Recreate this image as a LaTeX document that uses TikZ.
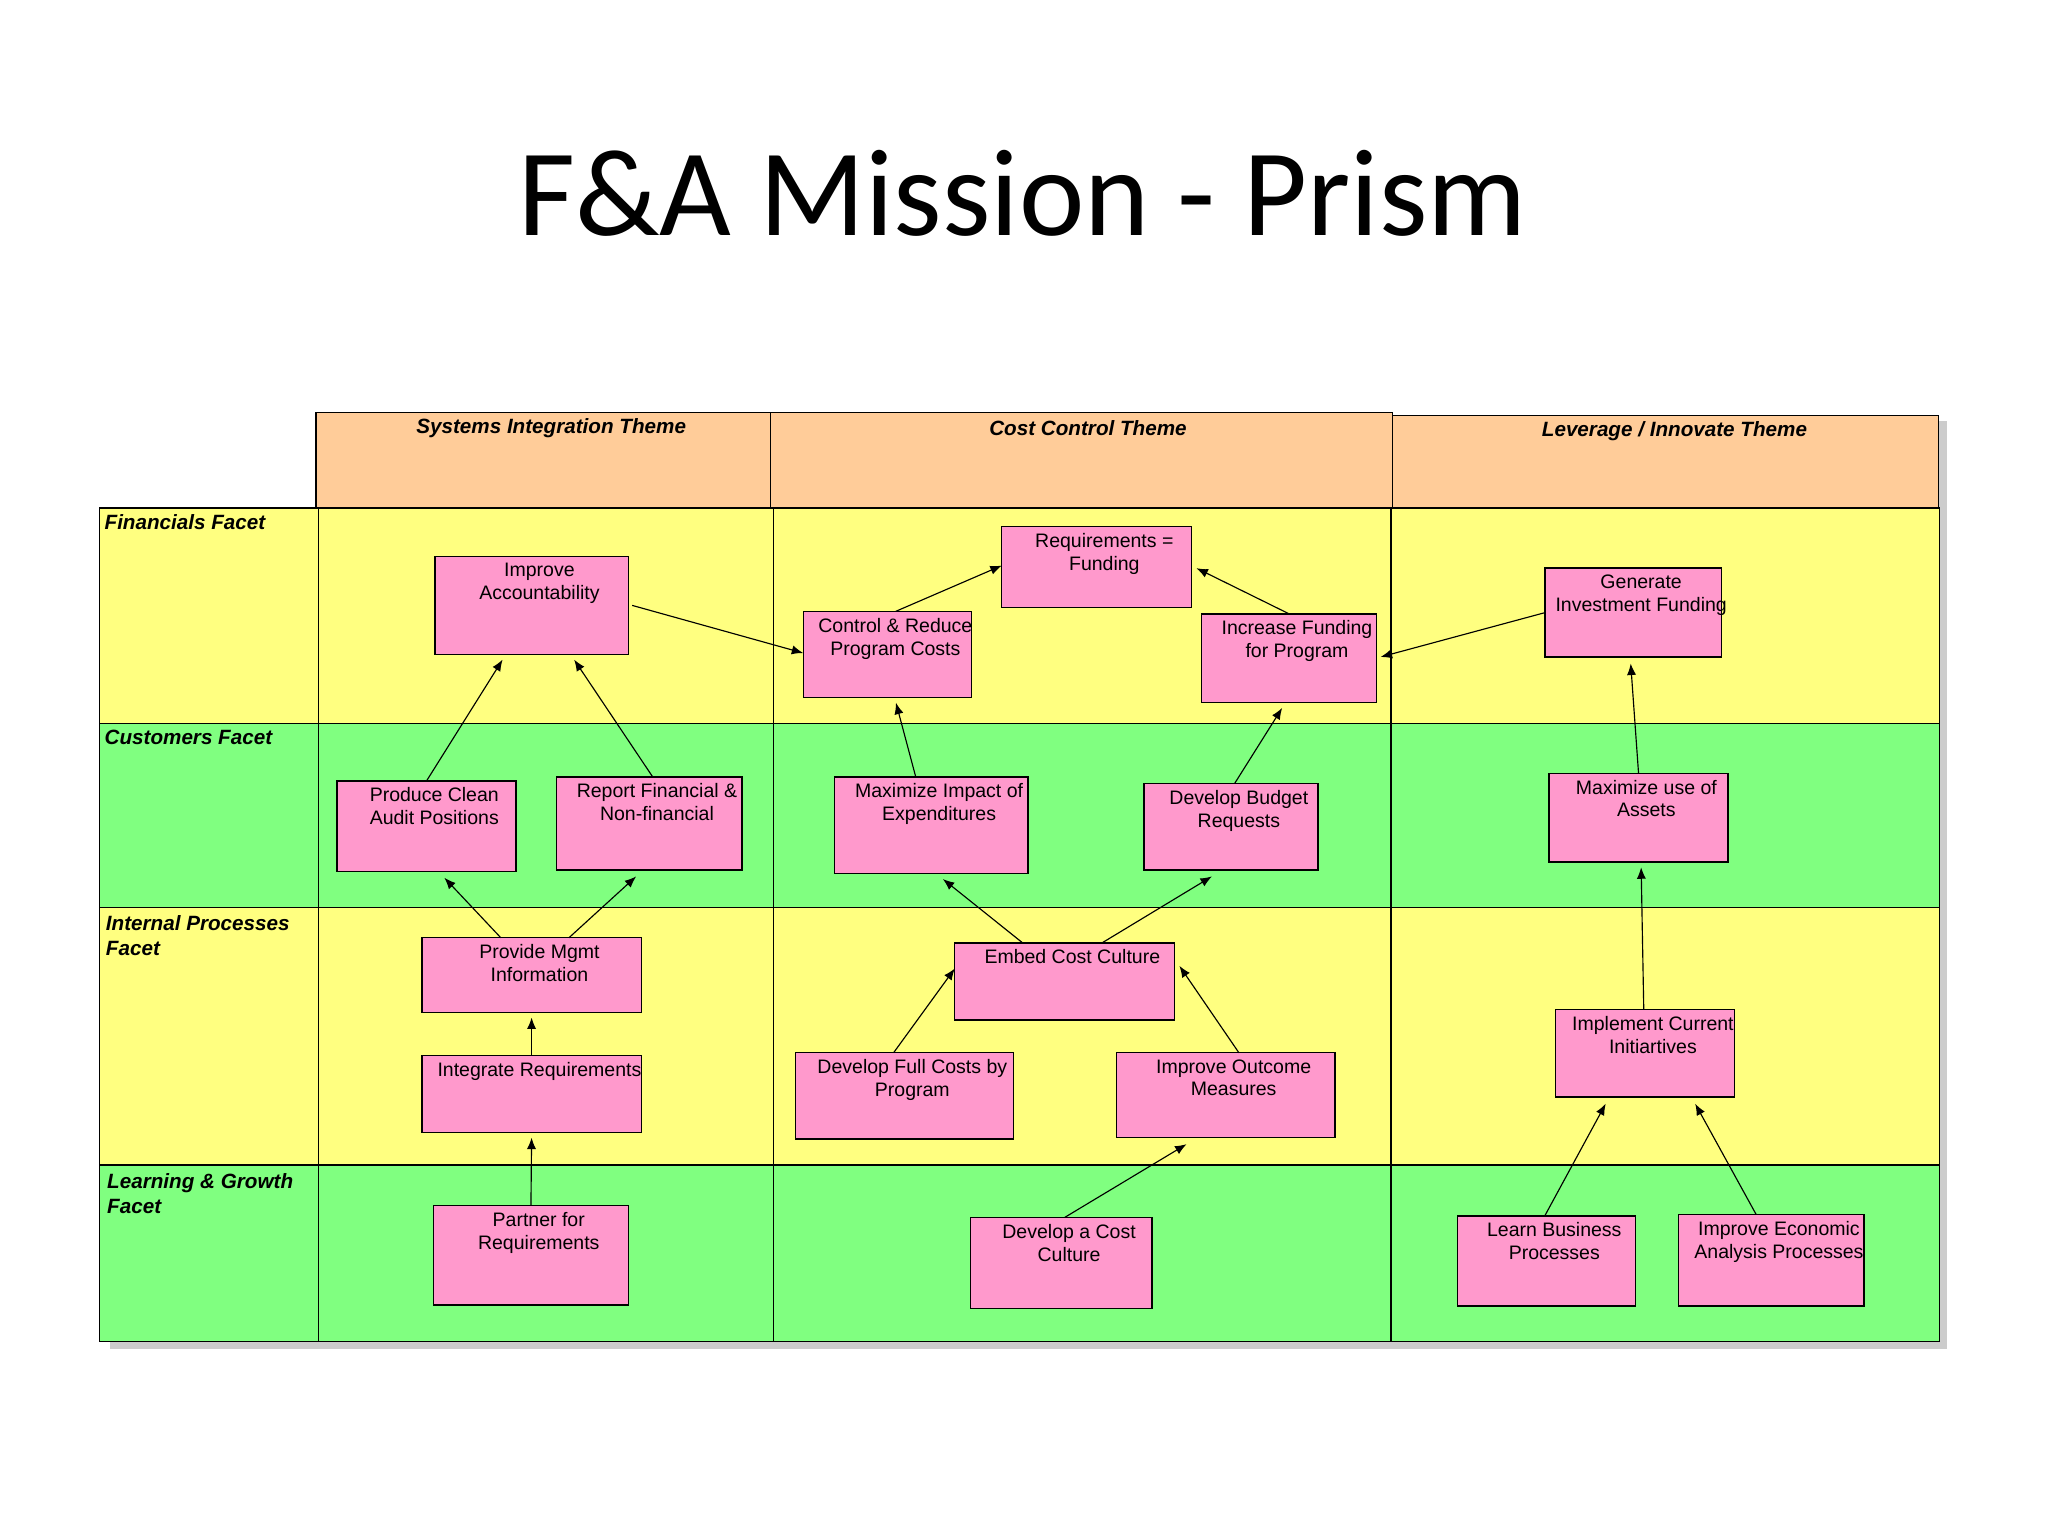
\documentclass[tikz,border=0pt]{standalone}
\usepackage{fontspec}
\setmainfont{Liberation Sans}
\newfontfamily\titlefont{Carlito}
\usetikzlibrary{shapes.misc,calc,arrows.meta}
\definecolor{yel}{HTML}{FFFF80}
\definecolor{grn}{HTML}{80FF80}
\definecolor{hdr}{HTML}{FFCC99}
\definecolor{pnk}{HTML}{FF99CC}
\begin{document}
\begin{tikzpicture}[x=0.02cm,y=-0.02cm,
 cell/.style={draw=black,line width=0.6pt},
 box/.style={chamfered rectangle,chamfered rectangle xsep=0.16cm,chamfered rectangle ysep=0.16cm,draw=black,fill=pnk,inner sep=0pt,outer sep=0pt,line width=0.6pt},
 txt/.style={font=\fontsize{8.5}{10}\selectfont,align=center,inner sep=1pt},
 hd/.style={font=\fontsize{9}{11}\selectfont\bfseries\itshape,inner sep=1pt},
 arr/.style={-{Latex[length=5pt,width=4pt]},line width=0.5pt}]
\useasboundingbox (0,0) rectangle (1568,1176);
\fill[white] (0,0) rectangle (1568,1176);
\node[font=\fontsize{54}{58}\selectfont\titlefont] (title) at (783,148) {F\&A Mission - Prism};
% shadow
\fill[gray!40] (250,322) rectangle (1491,1033);
\fill[gray!40] (84,395) rectangle (250,1033);
% header
\draw[cell,fill=hdr] (242,316) rectangle (590,389);
\draw[cell,fill=hdr] (590,316) rectangle (1066,389);
\draw[cell,fill=hdr] (1066,318) rectangle (1484,389);
\node[hd] (h1) at (422,328) {Systems Integration Theme};
\node[hd] (h2) at (833,328) {Cost Control Theme};
\node[hd] (h3) at (1282,330) {Leverage / Innovate Theme};
% rows
\foreach \ya/\yb/\c in {389/554/yel,554/695/grn,695/892/yel,892/1027/grn}{
 \draw[cell,fill=\c] (76,\ya) rectangle (244,\yb);
 \draw[cell,fill=\c] (244,\ya) rectangle (592,\yb);
 \draw[cell,fill=\c] (592,\ya) rectangle (1065,\yb);
 \draw[cell,fill=\c] (1065,\ya) rectangle (1485,\yb);
}
\node[hd,anchor=north west,align=left] (f1) at (78,392) {Financials Facet};
\node[hd,anchor=north west,align=left] (f2) at (78,557) {Customers Facet};
\node[hd,anchor=north west,align=left] (f3) at (79,699) {Internal Processes\\Facet};
\node[hd,anchor=north west,align=left] (f4) at (80,896) {Learning \& Growth\\Facet};
% boxes
\newcommand{\bx}[6]{%
 \pgfmathsetmacro{\cx}{(#2+#4)/2}\pgfmathsetmacro{\cy}{(#3+#5)/2}%
 \pgfmathsetmacro{\ww}{(#4-#2)*0.02}\pgfmathsetmacro{\hh}{(#5-#3)*0.02}%
 \node[box,minimum width=\ww cm,minimum height=\hh cm] (#1) at (\cx,\cy) {};
 \node[txt,anchor=north] at ($(#1.north)+(6,3)$) {#6};}
\bx{A}{333}{426}{481}{501}{Improve\\Accountability}
\bx{B}{258}{598}{395}{667}{Produce Clean\\Audit Positions}
\bx{C}{426}{595}{568}{666}{Report Financial \&\\Non-financial}
\bx{D}{323}{718}{491}{775}{Provide Mgmt\\Information}
\bx{E}{323}{808}{491}{867}{Integrate Requirements}
\bx{F}{332}{923}{481}{999}{Partner for\\Requirements}
\bx{G}{767}{403}{912}{465}{Requirements =\\Funding}
\bx{H}{615}{468}{744}{534}{Control \& Reduce\\Program Costs}
\bx{I}{920}{470}{1054}{538}{Increase Funding\\for Program}
\bx{J}{639}{595}{787}{669}{Maximize Impact of\\Expenditures}
\bx{K}{876}{600}{1009}{666}{Develop Budget\\Requests}
\bx{L}{731}{722}{899}{781}{Embed Cost Culture}
\bx{M}{609}{806}{776}{872}{Develop Full Costs by\\Program}
\bx{N}{855}{806}{1022}{871}{Improve Outcome\\Measures}
\bx{O}{743}{932}{882}{1002}{Develop a Cost\\Culture}
\bx{P}{1183}{435}{1318}{503}{Generate\\Investment Funding}
\bx{Q}{1186}{592}{1323}{660}{Maximize use of\\Assets}
\bx{R}{1191}{773}{1328}{840}{Implement Current\\Initiartives}
\bx{S}{1116}{931}{1252}{1000}{Learn Business\\Processes}
\bx{T}{1285}{930}{1427}{1000}{Improve Economic\\Analysis Processes}
% arrows
\draw[arr] ($(B.north west)!0.5!(B.north east)$) -- ($(A.south west)!0.35!(A.south east)+(0,4)$);
\draw[arr] ($(C.north west)!0.52!(C.north east)$) -- ($(A.south west)!0.72!(A.south east)+(0,4)$);
\draw[arr] ($(D.north west)!0.36!(D.north east)$) -- ($(B.south west)!0.6!(B.south east)+(0,5)$);
\draw[arr] ($(D.north west)!0.67!(D.north east)$) -- ($(C.south west)!0.43!(C.south east)+(0,5)$);
\draw[arr] (E.north) -- ($(D.south)+(0,4)$);
\draw[arr] (F.north) -- ($(E.south)+(0,4)$);
\draw[arr] ($(A.east)+(3,0)$) -- ($(H.west)+(0,-1)$);
\draw[arr] ($(H.north west)!0.55!(H.north east)$) -- ($(G.west)+(0,-1)$);
\draw[arr] ($(I.north west)!0.5!(I.north east)$) -- ($(G.east)+(4,1)$);
\draw[arr] ($(J.north west)!0.42!(J.north east)$) -- ($(H.south west)!0.55!(H.south east)+(0,4)$);
\draw[arr] ($(K.north west)!0.52!(K.north east)$) -- ($(I.south west)!0.46!(I.south east)+(0,4)$);
\draw[arr] ($(L.north west)!0.31!(L.north east)$) -- ($(J.south west)!0.56!(J.south east)+(0,4)$);
\draw[arr] ($(L.north west)!0.67!(L.north east)$) -- ($(K.south west)!0.39!(K.south east)+(0,5)$);
\draw[arr] ($(M.north west)!0.45!(M.north east)$) -- ($(L.west)+(0,-10)$);
\draw[arr] ($(N.north west)!0.56!(N.north east)$) -- ($(L.east)+(4,-12)$);
\draw[arr] ($(O.north west)!0.52!(O.north east)$) -- ($(N.south west)!0.32!(N.south east)+(0,5)$);
\draw[arr] (P.west) -- ($(I.east)+(3,-1)$);
\draw[arr] (Q.north) -- ($(P.south)+(-2,5)$);
\draw[arr] ($(R.north)+(-1,0)$) -- ($(Q.south)+(2,4)$);
\draw[arr] ($(S.north west)!0.49!(S.north east)$) -- ($(R.south west)!0.28!(R.south east)+(0,5)$);
\draw[arr] ($(T.north west)!0.42!(T.north east)$) -- ($(R.south west)!0.78!(R.south east)+(0,5)$);
\end{tikzpicture}
\end{document}
